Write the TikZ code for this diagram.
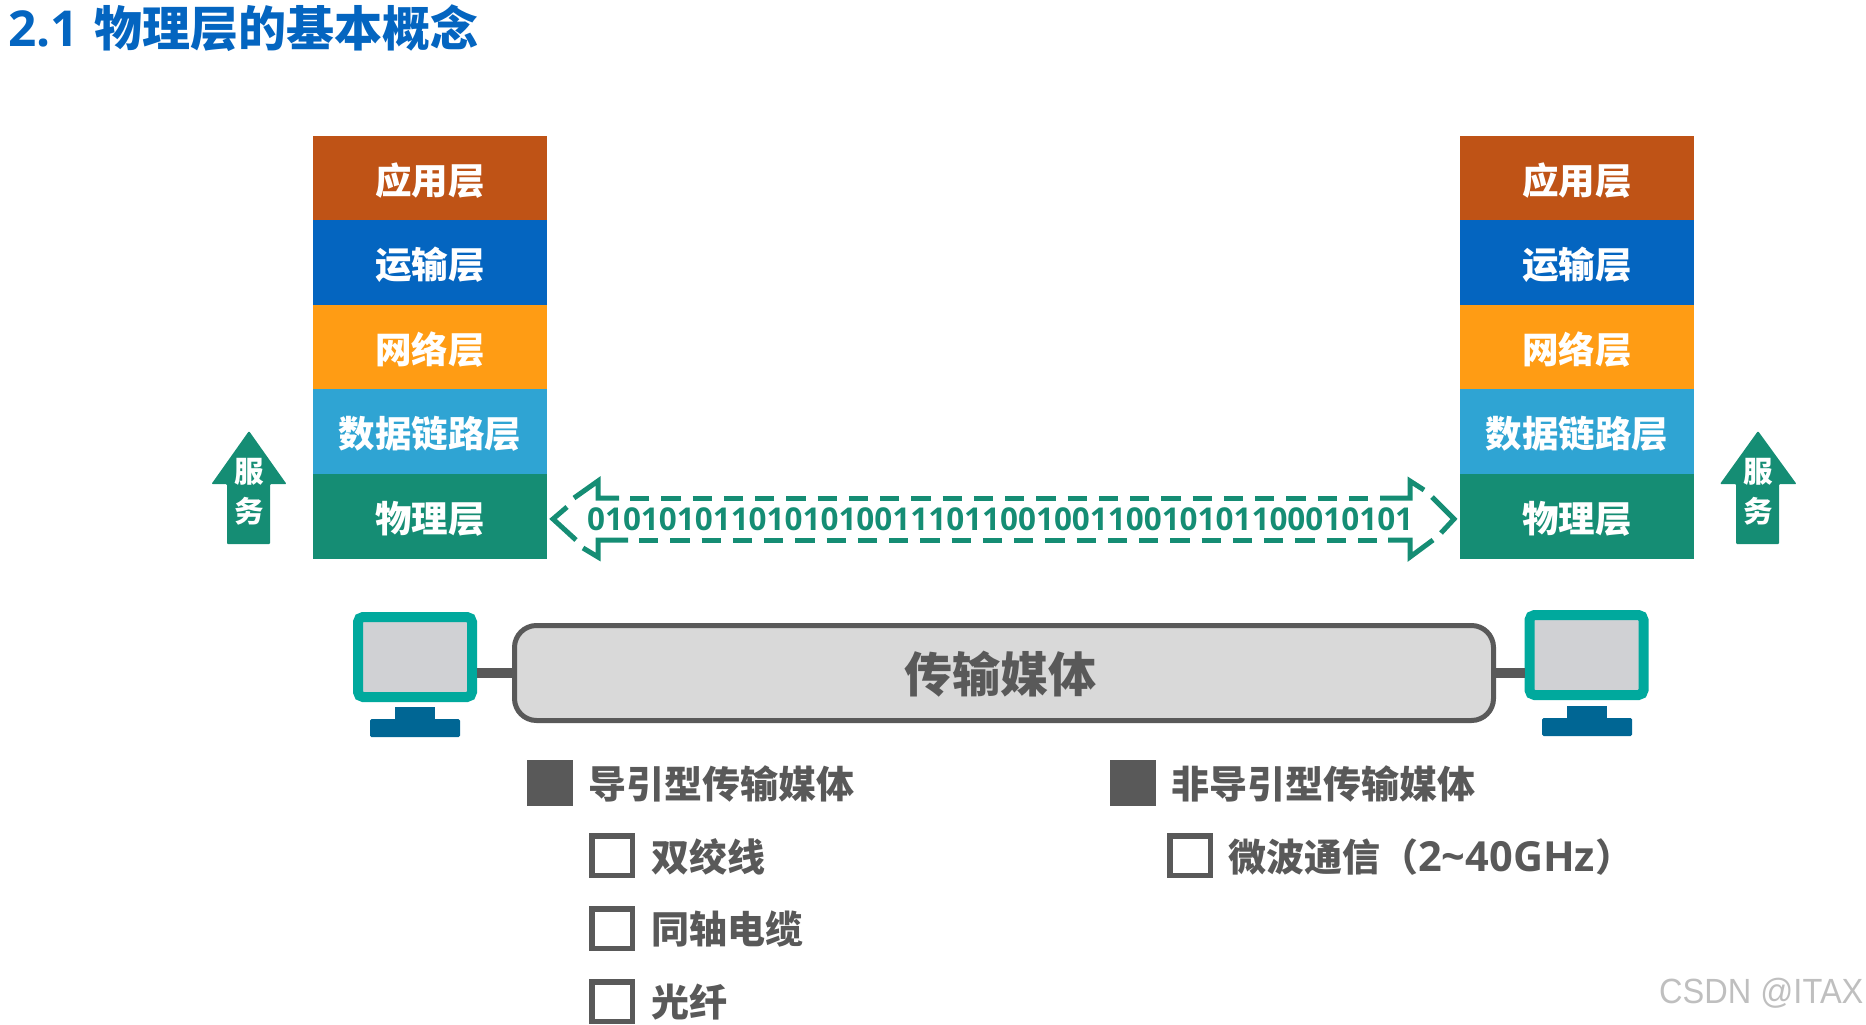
\documentclass[tikz,border=0pt]{standalone}
\usepackage{fontspec}
\setmainfont{Noto Sans CJK SC}
\newfontfamily\latinfont{Open Sans}
\newfontfamily\markfont{Liberation Sans}
\usetikzlibrary{arrows.meta}
\definecolor{appcolor}{HTML}{BF5316}
\definecolor{transcolor}{HTML}{0465C0}
\definecolor{netcolor}{HTML}{FF9C14}
\definecolor{linkcolor}{HTML}{2FA4D3}
\definecolor{phycolor}{HTML}{158D74}
\definecolor{screencolor}{HTML}{00A99D}
\definecolor{glasscolor}{HTML}{D0D1D4}
\definecolor{standcolor}{HTML}{006694}
\definecolor{inkcolor}{HTML}{595959}
\newcommand{\lowered}[1]{\raisebox{-2.5pt}[\height][\depth]{#1}}

\begin{document}
\begin{tikzpicture}[
    x=1pt, y=-1pt,
    font=\bfseries,
      layer/.style={rectangle, fill=#1, text=white, align=center, minimum width=234pt, minimum height=84.5pt, inner sep=0pt, font=\fontsize{36.5}{40}\selectfont\bfseries},
      service/.style={fill=phycolor, rounded corners=1pt},
      servicetext/.style={align=center, text=white, inner sep=0pt, font=\fontsize{29.5}{40}\selectfont\bfseries},
      bitline/.style={draw=phycolor, line width=5pt, line join=miter},
      bitdash/.style={bitline, dash pattern=on 19.25pt off 12pt},
      screen/.style={rectangle, draw=screencolor, fill=glasscolor, line width=10pt, rounded corners=5pt, minimum width=114pt, minimum height=80pt},
      neck/.style={rectangle, fill=standcolor, minimum width=40pt, minimum height=13pt, inner sep=0pt},
      base/.style={rectangle, fill=standcolor, rounded corners=1.5pt, minimum width=90pt, minimum height=18pt, inner sep=0pt},
      media/.style={rectangle, draw=inkcolor, fill=black!15, line width=5pt, rounded corners=22pt, minimum width=979pt, minimum height=95pt},
      cable/.style={draw=inkcolor, line width=10pt},
      solidbox/.style={rectangle, fill=inkcolor, minimum width=46pt, minimum height=46pt, inner sep=0pt},
      openbox/.style={rectangle, draw=inkcolor, line width=5.5pt, fill=white, minimum width=40.5pt, minimum height=39.5pt, inner sep=0pt},
      item/.style={anchor=west, text=inkcolor, inner sep=0pt, font=\fontsize{38}{42}\selectfont\bfseries}
    ]
      \useasboundingbox (0,0) rectangle (1866,1025);

      \node[anchor=west, inner sep=0pt, text=transcolor, font=\fontsize{48}{50}\selectfont\bfseries] (title) at (8,28) {{\latinfont\fontsize{49.5}{50}\selectfont 2.1}\hspace{16pt}物理层的基本概念};

      % left stack
      \node[layer=appcolor] (appL) at (430,178) {\lowered{应用层}};
      \node[layer=transcolor] (transL) at (430,262.5) {\lowered{运输层}};
      \node[layer=netcolor] (netL) at (430,347) {\lowered{网络层}};
      \node[layer=linkcolor] (linkL) at (430,431.5) {\lowered{数据链路层}};
      \node[layer=phycolor] (phyL) at (430,516.5) {\lowered{物理层}};

      % right stack
      \node[layer=appcolor] (appR) at (1577,178) {\lowered{应用层}};
      \node[layer=transcolor] (transR) at (1577,262.5) {\lowered{运输层}};
      \node[layer=netcolor] (netR) at (1577,347) {\lowered{网络层}};
      \node[layer=linkcolor] (linkR) at (1577,431.5) {\lowered{数据链路层}};
      \node[layer=phycolor] (phyR) at (1577,516.5) {\lowered{物理层}};

      % service arrows
      \fill[service] (249,431) -- (286.5,484) -- (270,484) -- (270,544) -- (227,544) -- (227,484) -- (211.5,484) -- cycle;
      \node[servicetext] (serviceL) at (249,492) {服\\务};
      \fill[service] (1758,431) -- (1796.5,484) -- (1779,484) -- (1779,544) -- (1736,544) -- (1736,484) -- (1720,484) -- cycle;
      \node[servicetext] (serviceR) at (1758,492) {服\\务};

      % bit stream
      \draw[bitline] (567,507) -- (553,519) -- (576,540);
      \draw[bitline] (574,498) -- (598,481) -- (598,498) -- (619,498);
      \draw[bitline] (583,548) -- (598,557) -- (598,540) -- (628,540);
      \draw[bitdash] (630,498) -- (1369,498);
      \draw[bitdash] (639,540) -- (1377,540);
      \draw[bitline] (1380,498) -- (1410,498) -- (1410,481) -- (1424,490);
      \draw[bitline] (1388,540) -- (1410,540) -- (1410,557) -- (1433,540);
      \draw[bitline] (1432,497) -- (1454,519) -- (1441,533);
      \node[inner sep=0pt, text=phycolor, font=\latinfont\fontsize{31.45}{34}\selectfont\bfseries] (bits) at (1000,519) {0101010110101010011101100100110010101100010101};

      % hosts and medium
      \node[screen] (screenL) at (415,657) {};
      \node[neck] (neckL) at (415,713) {};
      \node[base] (baseL) at (415,728) {};
      \node[screen] (screenR) at (1586.5,655) {};
      \node[neck] (neckR) at (1587,712) {};
      \node[base] (baseR) at (1587,727) {};
      \node[media] (cablemedia) at (1004,673) {};
      \node[text=inkcolor, inner sep=0pt, font=\fontsize{48}{50}\selectfont\bfseries] (medialabel) at (1000,674) {传输媒体};
      \draw[cable] (screenL.east |- cablemedia.west) -- (cablemedia.west);
      \draw[cable] (cablemedia.east) -- (cablemedia.east -| screenR.west);

      % guided media
      \node[solidbox] (guidedbox) at (550,783) {};
      \node[item] (guided) at (588,784) {导引型传输媒体};
      \node[openbox] (pairbox) at (612,855.5) {};
      \node[item] (pair) at (651,857) {双绞线};
      \node[openbox] (coaxbox) at (612,928.5) {};
      \node[item] (coax) at (651,929) {同轴电缆};
      \node[openbox] (fiberbox) at (612,1001.5) {};
      \node[item] (fiber) at (651,1002) {光纤};

      % unguided media
      \node[solidbox] (unguidedbox) at (1133,783) {};
      \node[item] (unguided) at (1171,784) {非导引型传输媒体};
      \node[openbox] (microbox) at (1190,855.5) {};
      \node[item] (micro) at (1228,857) {微波通信（{\latinfont\fontsize{41.5}{42}\selectfont 2\textasciitilde 40GHz}）};

      \node[anchor=west, inner sep=0pt, text=black!25, xscale=0.93, font=\markfont\fontsize{35}{38}\selectfont\mdseries] (mark) at (1659,993) {CSDN @ITAX};
    \end{tikzpicture}
\end{document}
